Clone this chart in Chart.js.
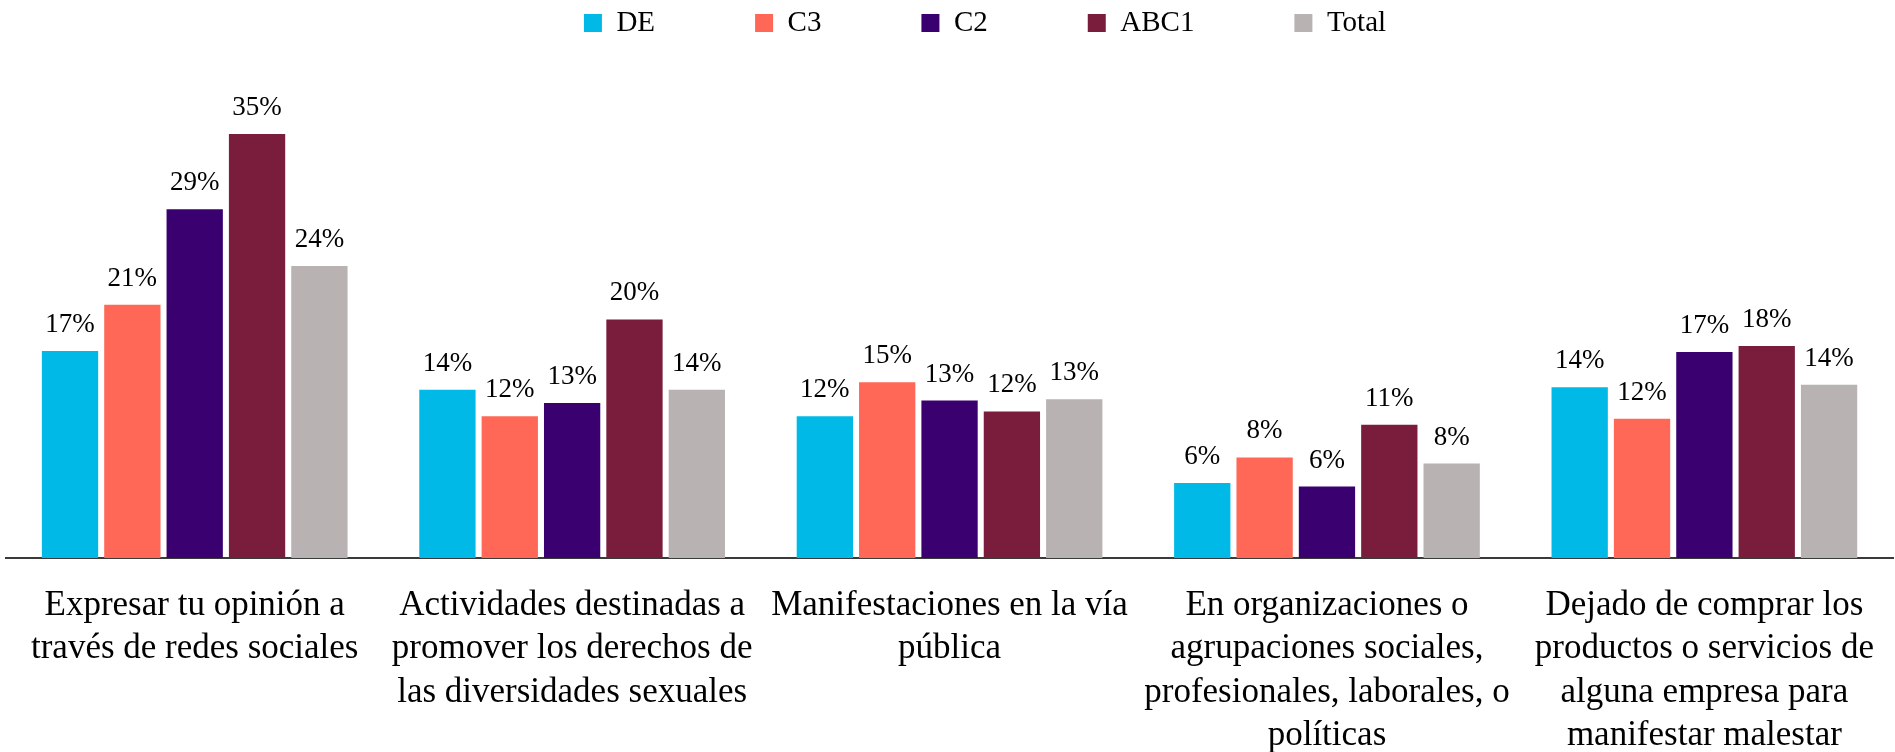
<!DOCTYPE html>
<html lang="es">
<head>
<meta charset="utf-8">
<title>Participación por nivel socioeconómico</title>
<script src="https://cdn.jsdelivr.net/npm/chart.js@4.4.1/dist/chart.umd.min.js"></script>
<style>
  html, body { margin: 0; padding: 0; background: #fff; overflow: hidden; }
  #chartBox { width: 1900px; height: 752px; }
</style>
</head>
<body>
<div id="chartBox"><canvas id="segChart" width="1900" height="752"></canvas></div>
<script>
// categories (x axis), one label line per entry
const categories = [
    ["Expresar tu opinión a", "través de redes sociales"],
    ["Actividades destinadas a", "promover los derechos de", "las diversidades sexuales"],
    ["Manifestaciones en la vía", "pública"],
    ["En organizaciones o", "agrupaciones sociales,", "profesionales, laborales, o", "políticas"],
    ["Dejado de comprar los", "productos o servicios de", "alguna empresa para", "manifestar malestar"],
];

// series, values in %
const seriesNames = ["DE", "C3", "C2", "ABC1", "Total"];
const valuesDE = [17.1, 13.9, 11.7, 6.2, 14.1];
const valuesC3 = [20.9, 11.7, 14.5, 8.3, 11.5];
const valuesC2 = [28.8, 12.8, 13.0, 5.9, 17.0];
const valuesABC1 = [35.0, 19.7, 12.1, 11.0, 17.5];
const valuesTotal = [24.1, 13.9, 13.1, 7.8, 14.3];

const seriesColors = ["#00b9e6", "#ff6856", "#3a0070", "#7a1d3c", "#b8b2b2"];
const seriesValues = [valuesDE, valuesC3, valuesC2, valuesABC1, valuesTotal];

const FONT = '"Liberation Serif", "Times New Roman", serif';

// percentage labels above each bar
const barLabels = {
    id: "barLabels",
    afterDatasetsDraw(chart) {
        const ctx = chart.ctx;
        ctx.save();
        ctx.font = "27px " + FONT;
        ctx.fillStyle = "#000";
        ctx.textAlign = "center";
        ctx.textBaseline = "alphabetic";
        chart.data.datasets.forEach((ds, i) => {
            const meta = chart.getDatasetMeta(i);
            meta.data.forEach((bar, j) => {
                ctx.fillText(Math.round(ds.data[j]) + "%", bar.x, bar.y - 19);
            });
        });
        ctx.restore();
    },
};

// nudge the legend row to the right like the original
const legendShift = {
    id: "legendShift",
    afterLayout(chart) {
        chart.legend.left += 32;
        chart.legend.right += 32;
    },
};

function getDatasets() {
    return seriesNames.map((name, i) => ({
        label: name,
        data: seriesValues[i],
        backgroundColor: seriesColors[i],
        borderWidth: 0,
        categoryPercentage: 0.826,
        barPercentage: 0.903,
    }));
}

const segChart = new Chart(document.getElementById("segChart"), {
    type: "bar",
    data: {
        labels: categories,
        datasets: getDatasets(),
    },
    options: {
        responsive: false,
        animation: false,
        devicePixelRatio: 1,
        layout: {
            padding: { top: -91.5, left: 6, right: 0, bottom: -32 },
        },
        plugins: {
            legend: {
                position: "top",
                labels: {
                    boxWidth: 18,
                    boxHeight: 18,
                    padding: 100,
                    color: "#000",
                    font: { family: FONT, size: 29 },
                },
            },
            tooltip: { enabled: false },
        },
        scales: {
            x: {
                grid: { display: false, drawTicks: false },
                border: { display: true, color: "#3a3a3a", width: 2 },
                ticks: {
                    color: "#000",
                    padding: 26,
                    maxRotation: 0,
                    autoSkip: false,
                    font: { family: FONT, size: 35, lineHeight: 1.243 },
                },
            },
            y: {
                display: false,
                min: 0,
                max: 42.15,
            },
        },
    },
    plugins: [barLabels, legendShift],
});
</script>
</body>
</html>
